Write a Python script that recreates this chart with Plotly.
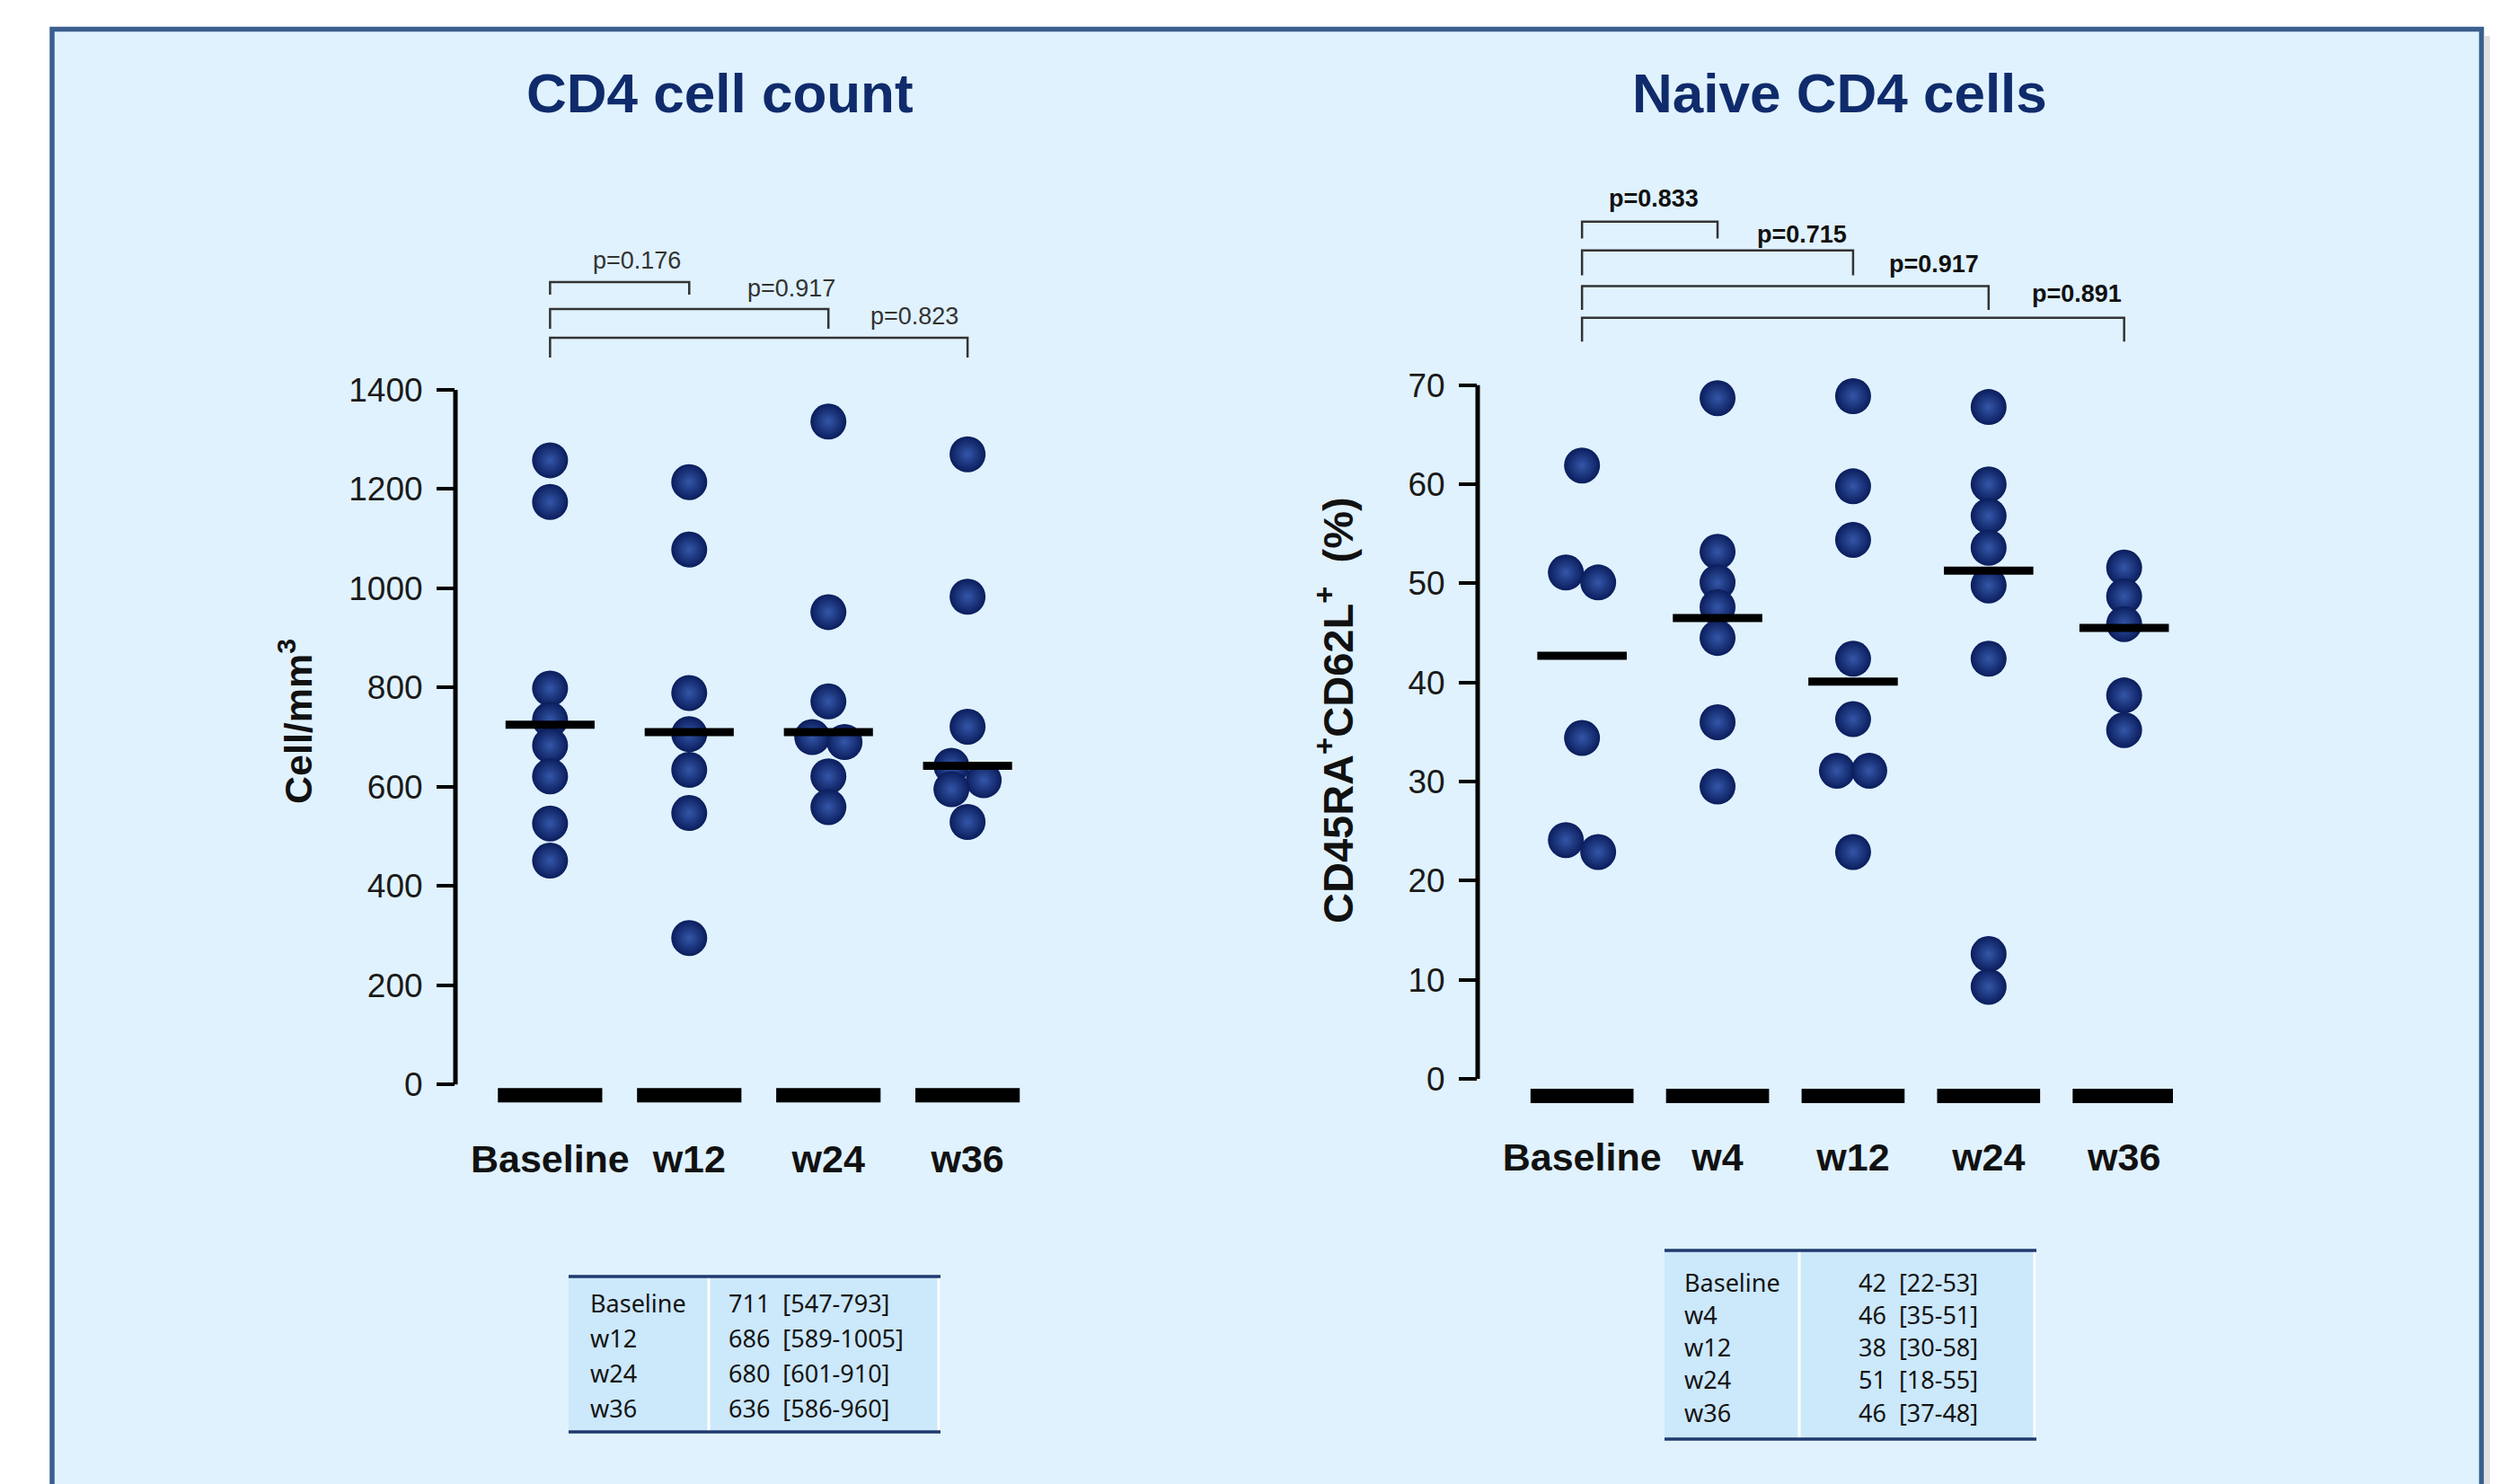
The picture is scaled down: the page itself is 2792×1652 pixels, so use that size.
import plotly.graph_objects as go

# page has an 8px body margin: draw a figure that fits exactly in the window
PAGE_W, PAGE_H = 2792, 1652
OFF = 8
W, H = PAGE_W - OFF, PAGE_H - OFF

# ---------------- data ----------------
cd4_categories = ["Baseline", "w12", "w24", "w36"]
cd4_baseline = [1258, 1174, 798, 735, 683, 621, 526, 451]
cd4_w12 = [1214, 1078, 789, 706, 634, 547, 295]
cd4_w24 = [1336, 952, 772, 700, 690, 621, 559]
cd4_w36 = [1270, 983, 721, 642, 613, 595, 529]
cd4_medians = [725, 710, 710, 642]
cd4_ticks = [0, 200, 400, 600, 800, 1000, 1200, 1400]
cd4_pvalues = ["p=0.176", "p=0.917", "p=0.823"]
cd4_table_labels = ["Baseline", "w12", "w24", "w36"]
cd4_table_values = ["711  [547-793]", "686  [589-1005]", "680  [601-910]", "636  [586-960]"]

naive_categories = ["Baseline", "w4", "w12", "w24", "w36"]
naive_baseline = [61.9, 51.1, 50.1, 34.4, 24.1, 22.9]
naive_w4 = [68.7, 53.2, 50.1, 47.6, 44.5, 36.0, 29.5]
naive_w12 = [68.9, 59.8, 54.4, 42.4, 36.3, 31.1, 31.1, 22.9]
naive_w24 = [67.8, 60.0, 56.8, 53.6, 49.8, 42.4, 12.6, 9.3]
naive_w36 = [51.6, 48.7, 45.9, 38.7, 35.2]
naive_medians = [42.7, 46.5, 40.1, 51.3, 45.5]
naive_ticks = [0, 10, 20, 30, 40, 50, 60, 70]
naive_pvalues = ["p=0.833", "p=0.715", "p=0.917", "p=0.891"]
naive_table_labels = ["Baseline", "w4", "w12", "w24", "w36"]
naive_table_values = ["42  [22-53]", "46  [35-51]", "38  [30-58]", "51  [18-55]", "46  [37-48]"]

# ---------------- style ----------------
FONT = "Liberation Sans, Arial, sans-serif"
TFONT = "Noto Sans, Open Sans, sans-serif"
NAVY = "#0f2b6b"
PT_EDGE = "#0a1d5c"
PT_CENTER = "#3456a8"
PANEL = "#e0f2fe"
TABLE_FILL = "#cce8fb"
TABLE_LINE = "#1f3a6e"
BRACKET = "#333333"

fig = go.Figure()

def px_x(p):
    return (p - OFF) / W

def px_y(p):
    return (H - (p - OFF)) / H


def dodge(vals, thr, off):
    order = sorted(range(len(vals)), key=lambda k: -vals[k])
    offs = [0.0] * len(vals)
    chains, cur = [], [order[0]]
    for a, b in zip(order[:-1], order[1:]):
        if vals[a] - vals[b] < thr:
            cur.append(b)
        else:
            chains.append(cur)
            cur = [b]
    chains.append(cur)
    for ch in chains:
        if len(ch) > 1:
            for j, k in enumerate(ch):
                offs[k] = -off if j % 2 == 0 else off
    return offs


def add_panel(xa, ya, groups, medians, ymax_tick, unit_per_px, x_per_px, bar_px,
              bar_half, med_half, brackets, blabels, pvals, pfont):
    # bottom black bars
    bx, by = [], []
    bar_y = -bar_px * unit_per_px
    for i in range(len(groups)):
        bx += [i - bar_half, i + bar_half, None]
        by += [bar_y, bar_y, None]
    fig.add_trace(go.Scatter(x=bx, y=by, mode="lines", xaxis=xa, yaxis=ya,
                             line=dict(color="black", width=16), hoverinfo="skip",
                             showlegend=False))
    # points
    for i, vals in enumerate(groups):
        offs = dodge(vals, 20 * unit_per_px, 18 * x_per_px)
        fig.add_trace(go.Scatter(
            x=[i + o for o in offs], y=vals, mode="markers", xaxis=xa, yaxis=ya,
            cliponaxis=False, showlegend=False,
            marker=dict(size=40, color=PT_EDGE, line=dict(width=0),
                        gradient=dict(type="radial", color=PT_CENTER))))
    # medians
    mx, my = [], []
    for i, m in enumerate(medians):
        mx += [i - med_half, i + med_half, None]
        my += [m, m, None]
    fig.add_trace(go.Scatter(x=mx, y=my, mode="lines", xaxis=xa, yaxis=ya,
                             line=dict(color="black", width=9), hoverinfo="skip",
                             showlegend=False))
    # brackets
    for k, (top, bot) in enumerate(brackets):
        end = k + 1
        fig.add_trace(go.Scatter(x=[0, 0, end, end], y=[bot, top, top, bot],
                                 mode="lines", xaxis=xa, yaxis=ya,
                                 line=dict(color=BRACKET, width=2.5),
                                 hoverinfo="skip", showlegend=False))
    for (lx, ly), txt in zip(blabels, pvals):
        fig.add_annotation(x=lx, y=ly, xref=xa, yref=ya, text=txt,
                           showarrow=False, xanchor="center", yanchor="middle",
                           font=pfont)
    # y axis line from 0 to top tick
    fig.add_shape(type="line", xref=xa + " domain", yref=ya, x0=0, x1=0,
                  y0=0, y1=ymax_tick, line=dict(color="black", width=5))


# ---- left panel
L_UPP = 1 / 0.5521     # y units per pixel
L_XPP = 1 / 155.0      # categories per pixel
add_panel("x", "y", [cd4_baseline, cd4_w12, cd4_w24, cd4_w36], cd4_medians,
          max(cd4_ticks), L_UPP, L_XPP, 12, 0.375, 0.32,
          [(1617, 1592), (1563, 1523), (1505, 1465)],
          [(0.626, 1661), (1.735, 1605), (2.62, 1549)], cd4_pvalues,
          dict(family=FONT, size=27, color="#333333"))

# ---- right panel
R_UPP = 1 / 11.029
R_XPP = 1 / 151.0
add_panel("x2", "y2", [naive_baseline, naive_w4, naive_w12, naive_w24, naive_w36],
          naive_medians, max(naive_ticks), R_UPP, R_XPP, 19, 0.38, 0.33,
          [(86.5, 84.8), (83.6, 81.1), (80.0, 77.6), (76.8, 74.4)],
          [(0.53, 88.8), (1.62, 85.2), (2.60, 82.2), (3.65, 79.2)],
          naive_pvalues, dict(family=FONT, size=27, color="#111111", weight="bold"))

axis_common = dict(showgrid=False, zeroline=False, showline=False)
xfont = dict(family=FONT, size=43, color="#111111", weight="bold")
yt = dict(ticks="outside", ticklen=20, tickwidth=4, tickcolor="black",
          tickfont=dict(family=FONT, size=37, color="#1a1a1a"), ticklabelstandoff=8)

fig.update_layout(
    xaxis=dict(domain=[px_x(507), px_x(1136)], range=[-0.68, 3.38],
               tickvals=list(range(len(cd4_categories))), ticktext=cd4_categories,
               anchor="y", ticks="", tickfont=xfont, ticklabelstandoff=29, **axis_common),
    yaxis=dict(domain=[px_y(1232), px_y(260)], range=[-45, 1715],
               tickvals=cd4_ticks, anchor="x", **axis_common, **yt),
    xaxis2=dict(domain=[px_x(1645), px_x(2419)], range=[-0.77, 4.36],
                tickvals=list(range(len(naive_categories))), ticktext=naive_categories,
                anchor="y2", ticks="", tickfont=xfont, ticklabelstandoff=25, **axis_common),
    yaxis2=dict(domain=[px_y(1234.1), px_y(195)], range=[-3.0, 91.2],
                tickvals=naive_ticks, anchor="x2", **axis_common, **yt),
)

# ---- background panel
shapes = [
    dict(type="rect", xref="paper", yref="paper", x0=px_x(2766), x1=px_x(2772),
         y0=-0.02, y1=px_y(40), fillcolor="rgba(0,0,0,0.12)", line=dict(width=0),
         layer="below"),
    dict(type="rect", xref="paper", yref="paper", x0=px_x(58), x1=px_x(2762.5),
         y0=-0.02, y1=px_y(32.5), fillcolor=PANEL,
         line=dict(color="#3b5f8e", width=5.5), layer="below"),
]

# ---- tables
def add_table(x0, x1, y0, y1, xdiv, labels, values, row0, step, col1x, col2x, col2anchor):
    shapes.append(dict(type="rect", xref="paper", yref="paper", x0=px_x(x0), x1=px_x(x1),
                       y0=px_y(y1), y1=px_y(y0), fillcolor=TABLE_FILL,
                       line=dict(width=0), layer="below"))
    for xv in (xdiv, x1 - 2):
        shapes.append(dict(type="line", xref="paper", yref="paper", x0=px_x(xv), x1=px_x(xv),
                           y0=px_y(y1), y1=px_y(y0), line=dict(color="white", width=3)))
    for yv in (y0, y1):
        shapes.append(dict(type="line", xref="paper", yref="paper", x0=px_x(x0), x1=px_x(x1),
                           y0=px_y(yv), y1=px_y(yv), line=dict(color=TABLE_LINE, width=3.5)))
    for r, (lab, val) in enumerate(zip(labels, values)):
        yy = px_y(row0 + r * step)
        fig.add_annotation(x=px_x(col1x), y=yy, xref="paper", yref="paper", text=lab,
                           showarrow=False, xanchor="left", yanchor="middle",
                           font=dict(family=TFONT, size=27, color="#141414"))
        fig.add_annotation(x=px_x(col2x), y=yy, xref="paper", yref="paper",
                           text=val.replace("  ", "&nbsp; "),
                           showarrow=False, xanchor=col2anchor, yanchor="middle",
                           font=dict(family=TFONT, size=27, color="#141414"))

add_table(633, 1047, 1421, 1594, 789, cd4_table_labels, cd4_table_values,
          1450, 39, 655, 809, "left")
add_table(1853, 2267, 1392, 1602, 2003, naive_table_labels, naive_table_values,
          1427, 36.3, 1873, 2135, "center")

fig.update_layout(shapes=fig.layout.shapes + tuple(shapes))

# ---- titles
for txt, cx in (("CD4 cell count", 801), ("Naive CD4 cells", 2048)):
    fig.add_annotation(x=px_x(cx), y=px_y(103), xref="paper", yref="paper", text=txt,
                       showarrow=False, xanchor="center", yanchor="middle",
                       font=dict(family=FONT, size=62, color=NAVY, weight="bold"))

fig.add_annotation(x=px_x(329), y=px_y(803), xref="paper", yref="paper",
                   text="Cell/mm<sup>3</sup>", textangle=-90, showarrow=False,
                   xanchor="center", yanchor="middle",
                   font=dict(family=FONT, size=43, color="#111111", weight="bold"))
fig.add_annotation(x=px_x(1486), y=px_y(790), xref="paper", yref="paper",
                   text="CD45RA<sup>+</sup>CD62L<sup>+</sup>&nbsp; (%)", textangle=-90,
                   showarrow=False, xanchor="center", yanchor="middle",
                   font=dict(family=FONT, size=47, color="#111111", weight="bold"))

fig.update_layout(width=W, height=H, margin=dict(l=0, r=0, t=0, b=0),
                  paper_bgcolor="white", plot_bgcolor="rgba(0,0,0,0)",
                  showlegend=False, font=dict(family=FONT))

fig.write_html("out.html")
